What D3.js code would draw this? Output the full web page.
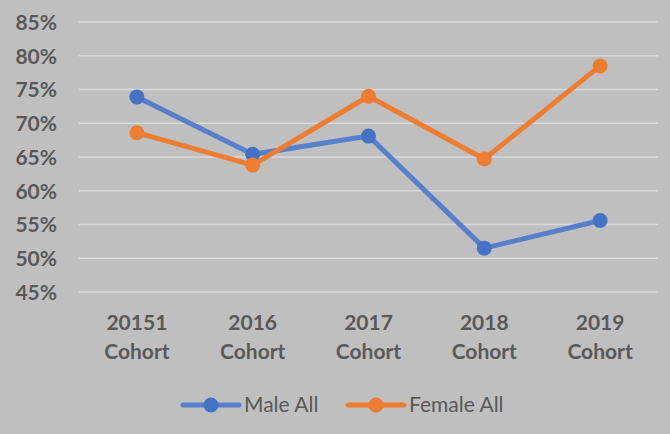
<!DOCTYPE html>
<html><head><meta charset="utf-8">
<script src="https://cdn.jsdelivr.net/npm/d3@7"></script>
<style>
html,body{margin:0;padding:0;background:#bfbfbf;}
svg{display:block;}
</style></head>
<body>
<svg id="chart" width="670" height="434"></svg>
<script>
const categories = [["20151","Cohort"],["2016","Cohort"],["2017","Cohort"],["2018","Cohort"],["2019","Cohort"]];
const maleAll = [0.739, 0.654, 0.681, 0.515, 0.556];
const femaleAll = [0.686, 0.638, 0.740, 0.647, 0.785];
const yTicks = [0.45,0.50,0.55,0.60,0.65,0.70,0.75,0.80,0.85];
const seriesNames = ["Male All","Female All"];

const W=670,H=434;
const margin={left:79,right:12,top:22,bottom:142};
const svg=d3.select("#chart");
svg.append("rect").attr("width",W).attr("height",H).attr("fill","#bfbfbf");

const x=d3.scaleBand().domain(d3.range(categories.length)).range([79,658]);
const y=d3.scaleLinear().domain([0.45,0.85]).range([292,22]);
const font="Lato, 'Liberation Sans', sans-serif";

// gridlines
svg.append("g").selectAll("line").data(yTicks).join("line")
 .attr("x1",79).attr("x2",658).attr("y1",d=>y(d)).attr("y2",d=>y(d))
 .attr("stroke","#d9d9d9").attr("stroke-width",1.5);

// y axis labels
const yAxis=d3.axisLeft(y).tickValues(yTicks).tickFormat(d3.format(".0%")).tickSize(0).tickPadding(0);
const ya=svg.append("g").attr("transform","translate(57,0)").call(yAxis);
ya.select(".domain").remove();
ya.selectAll("text").attr("font-family",font).attr("font-weight","bold").attr("font-size",21).attr("fill","#595959").attr("dy","0.35em");

// x labels
const xa=svg.append("g");
categories.forEach((c,i)=>{
  const t=xa.append("text").attr("x",x(i)+x.bandwidth()/2).attr("text-anchor","middle")
   .attr("font-family",font).attr("font-weight","bold").attr("font-size",21).attr("fill","#595959");
  t.append("tspan").attr("x",x(i)+x.bandwidth()/2).attr("y",330).text(c[0]);
  t.append("tspan").attr("x",x(i)+x.bandwidth()/2).attr("y",359).text(c[1]);
});

const cx=i=>x(i)+x.bandwidth()/2;
const line=d3.line().x((d,i)=>cx(i)).y(d=>y(d));
const series=[{name:seriesNames[0],values:maleAll,line:"#5680cb",mark:"#4472c4"},
              {name:seriesNames[1],values:femaleAll,line:"#ed7d31",mark:"#ed7d31"}];
series.forEach(s=>{
  svg.append("path").datum(s.values).attr("d",line).attr("fill","none")
    .attr("stroke",s.line).attr("stroke-width",5).attr("stroke-linejoin","round");
  svg.append("g").selectAll("circle").data(s.values).join("circle")
    .attr("cx",(d,i)=>cx(i)).attr("cy",d=>y(d)).attr("r",7.5).attr("fill",s.mark);
});

// legend
const leg=[{x0:183,name:seriesNames[0],s:series[0]},{x0:348,name:seriesNames[1],s:series[1]}];
leg.forEach(l=>{
  const g=svg.append("g");
  g.append("line").attr("x1",l.x0).attr("x2",l.x0+56).attr("y1",405).attr("y2",405)
   .attr("stroke",l.s.line).attr("stroke-width",5).attr("stroke-linecap","round");
  g.append("circle").attr("cx",l.x0+28).attr("cy",405).attr("r",7.5).attr("fill",l.s.mark);
  g.append("text").attr("x",l.x0+61).attr("y",405).attr("dy","0.35em")
   .attr("font-family",font).attr("font-size",21).attr("fill","#595959").text(l.name);
});
</script>
</body></html>
